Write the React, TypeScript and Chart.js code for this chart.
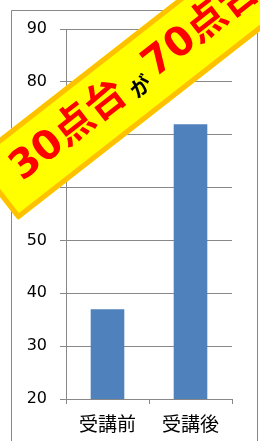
import React, { useEffect, useRef } from "react";
import { Chart, registerables } from "chart.js";

Chart.register(...registerables);

const categories = ["受講前", "受講後"];
const scores = [37, 72];
const yMin = 20;
const yMax = 90;
const yStep = 10;
const bannerBefore = "30点台";
const bannerJoin = "が";
const bannerAfter = "70点台";

const GRID = "#888888";

const framePlugin = {
  id: "frame",
  beforeDraw(chart: any) {
    const ctx = chart.ctx;
    ctx.save();
    ctx.fillStyle = "#ffffff";
    ctx.fillRect(0, 0, chart.width, chart.height);
    ctx.strokeStyle = GRID;
    ctx.lineWidth = 1;
    ctx.beginPath();
    ctx.moveTo(11.5, chart.height + 2);
    ctx.lineTo(11.5, 10.5);
    ctx.lineTo(257.5, 10.5);
    ctx.lineTo(257.5, chart.height + 2);
    ctx.stroke();
    ctx.restore();
  },
};

const bannerPlugin = {
  id: "banner",
  afterDraw(chart: any) {
    const ctx = chart.ctx;
    const theta = (38 * Math.PI) / 180;
    ctx.save();
    ctx.translate(18, 220);
    ctx.rotate(-theta);
    const thick = 76;
    const len = 440;
    ctx.fillStyle = "#FFFF00";
    ctx.fillRect(0, -thick, len, thick);
    ctx.strokeStyle = "#FFC000";
    ctx.lineWidth = 5;
    ctx.lineJoin = "round";
    ctx.strokeRect(2.5, -thick + 2.5, len - 5, thick - 5);

    const mid = -38;
    ctx.textBaseline = "middle";
    ctx.textAlign = "left";
    ctx.fillStyle = "#FF0000";
    ctx.font = "bold 40px 'DejaVu Sans', 'Noto Sans CJK JP'";
    ctx.fillText(bannerBefore, 27, mid);
    const w1 = ctx.measureText(bannerBefore).width;
    ctx.fillStyle = "#000000";
    ctx.font = "bold 21px 'Noto Sans CJK JP'";
    const wj = ctx.measureText(bannerJoin).width;
    const gapStart = 27 + w1;
    const secondStart = 195;
    ctx.fillText(bannerJoin, gapStart + (secondStart - gapStart - wj) / 2, -30);
    ctx.fillStyle = "#FF0000";
    ctx.font = "bold 40px 'DejaVu Sans', 'Noto Sans CJK JP'";
    ctx.fillText(bannerAfter, secondStart, mid);
    ctx.restore();
  },
};

export default function App() {
  const ref = useRef<HTMLCanvasElement | null>(null);

  useEffect(() => {
    if (!ref.current) return;
    const chart = new Chart(ref.current, {
      type: "bar",
      data: {
        labels: categories,
        datasets: [
          {
            data: scores,
            backgroundColor: "#4F81BD",
            borderWidth: 0,
            categoryPercentage: 1,
            barPercentage: 0.405,
          },
        ],
      },
      options: {
        animation: false,
        responsive: false,
        devicePixelRatio: 1,
        layout: { padding: { top: 29, right: 28, left: 0, bottom: 0 } },
        plugins: { legend: { display: false }, tooltip: { enabled: false } },
        scales: {
          x: {
            grid: {
              display: true,
              drawOnChartArea: false,
              drawTicks: true,
              tickLength: 5,
              color: GRID,
              offset: true,
            },
            border: { display: true, color: GRID },
            ticks: {
              color: "#000000",
              padding: 8,
              font: { family: "'Noto Sans CJK JP'", size: 19 },
            },
            afterFit: (s: any) => {
              s.height = 42;
            },
          },
          y: {
            min: yMin,
            max: yMax,
            ticks: {
              stepSize: yStep,
              color: "#000000",
              padding: 13,
              font: { family: "'DejaVu Sans'", size: 16 },
            },
            grid: { color: GRID, tickLength: 6 },
            border: { display: true, color: GRID },
            afterFit: (s: any) => {
              s.width = 66;
            },
          },
        },
      },
      plugins: [framePlugin, bannerPlugin],
    });
    return () => chart.destroy();
  }, []);

  return (
    <div style={{ position: "fixed", left: 0, top: 0, width: 260, height: 441 }}>
      <canvas ref={ref} width={260} height={441} style={{ display: "block" }} />
    </div>
  );
}
